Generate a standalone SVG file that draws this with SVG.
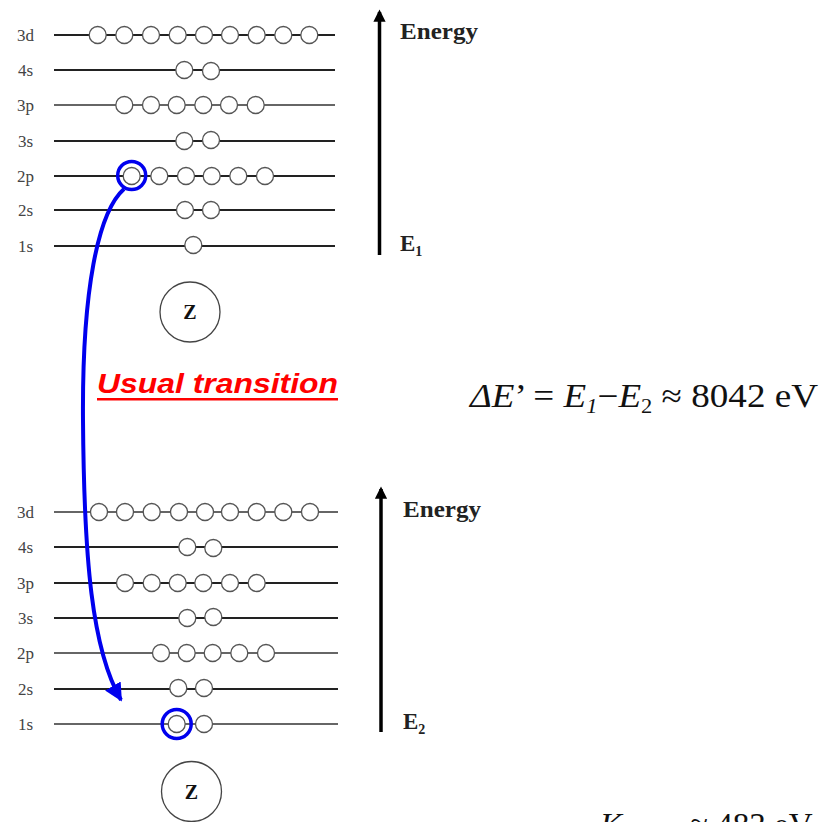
<svg xmlns="http://www.w3.org/2000/svg" width="835" height="822" viewBox="0 0 835 822">
<style>
.lbl{font-family:"Liberation Serif",serif;font-size:17px;fill:#444}
.lv{stroke:#222;stroke-width:2;fill:none}
.lvg{stroke:#666;stroke-width:2;fill:none}
.e{fill:#fff;stroke:#555;stroke-width:1.3}
.ax{stroke:#000;stroke-width:3.5;fill:none}
.en{font-family:"Liberation Serif",serif;font-weight:bold;font-size:23px;fill:#222}
.zc{fill:#fff;stroke:#444;stroke-width:1.3}
.zt{font-family:"Liberation Serif",serif;font-weight:bold;font-size:20px;fill:#111;text-anchor:middle}
.hl{fill:none;stroke:#0000ee;stroke-width:3.5}
.eq{font-family:"Liberation Serif",serif;font-size:33px;fill:#111}
</style>
<defs>
<marker id="ah" viewBox="0 0 10 10" refX="8" refY="5" markerWidth="4" markerHeight="3.5" orient="auto"><path d="M0,0 L10,5 L0,10 Z" fill="#000"/></marker>
<marker id="bh" viewBox="0 0 10 10" refX="9" refY="5" markerWidth="4.5" markerHeight="4.5" orient="auto" markerUnits="strokeWidth"><path d="M0,0 L10,5 L0,10 Z" fill="#0000ee"/></marker>
</defs>

<g id="atom1">
<g id="top-3d"><text class="lbl" x="17" y="41">3d</text><line class="lv" x1="54" y1="35" x2="335" y2="35"/>
<circle class="e" cx="97.7" cy="35" r="8.5"/><circle class="e" cx="124.3" cy="35" r="8.5"/><circle class="e" cx="151" cy="35" r="8.5"/><circle class="e" cx="177.7" cy="35" r="8.5"/><circle class="e" cx="204" cy="35" r="8.5"/><circle class="e" cx="230" cy="35" r="8.5"/><circle class="e" cx="256.7" cy="35" r="8.5"/><circle class="e" cx="283.3" cy="35" r="8.5"/><circle class="e" cx="309.3" cy="35" r="8.5"/></g>
<g id="top-4s"><text class="lbl" x="18" y="76">4s</text><line class="lv" x1="54" y1="70" x2="335" y2="70"/>
<circle class="e" cx="184.3" cy="70" r="8.5"/><circle class="e" cx="211" cy="71" r="8.5"/></g>
<g id="top-3p"><text class="lbl" x="17" y="111">3p</text><line class="lvg" x1="54" y1="105" x2="335" y2="105"/>
<circle class="e" cx="124.3" cy="105" r="8.5"/><circle class="e" cx="151" cy="105" r="8.5"/><circle class="e" cx="176.7" cy="105" r="8.5"/><circle class="e" cx="203.3" cy="105" r="8.5"/><circle class="e" cx="229" cy="105" r="8.5"/><circle class="e" cx="255.7" cy="105" r="8.5"/></g>
<g id="top-3s"><text class="lbl" x="18" y="147">3s</text><line class="lv" x1="54" y1="141" x2="335" y2="141"/>
<circle class="e" cx="184.3" cy="141" r="8.5"/><circle class="e" cx="211" cy="140" r="8.5"/></g>
<g id="top-2p"><text class="lbl" x="17" y="182">2p</text><line class="lv" x1="54" y1="176" x2="335" y2="176"/>
<circle class="e" cx="131.7" cy="176" r="8.5"/><circle class="e" cx="159.3" cy="176" r="8.5"/><circle class="e" cx="186" cy="176" r="8.5"/><circle class="e" cx="211.7" cy="176" r="8.5"/><circle class="e" cx="238.3" cy="176" r="8.5"/><circle class="e" cx="265" cy="176" r="8.5"/></g>
<g id="top-2s"><text class="lbl" x="18" y="216">2s</text><line class="lv" x1="54" y1="210" x2="335" y2="210"/>
<circle class="e" cx="185" cy="210" r="8.5"/><circle class="e" cx="211" cy="210" r="8.5"/></g>
<g id="top-1s"><text class="lbl" x="18" y="252">1s</text><line class="lv" x1="54" y1="246" x2="335" y2="246"/>
<circle class="e" cx="193.3" cy="245" r="8.5"/></g>
<g id="top-energy"><line class="ax" x1="379.5" y1="255" x2="379.5" y2="12" marker-end="url(#ah)"/>
<text class="en" x="400" y="39" textLength="78" lengthAdjust="spacingAndGlyphs">Energy</text>
<text class="en" x="400" y="251">E<tspan font-size="14" dy="5">1</tspan></text></g>
<g id="top-z"><circle class="zc" cx="190" cy="312" r="30"/><text class="zt" x="190" y="319">Z</text></g>
</g>

<g id="atom2">
<g id="bot-3d"><text class="lbl" x="17" y="518">3d</text><line class="lvg" x1="54" y1="512" x2="338" y2="512"/>
<circle class="e" cx="99" cy="512" r="8.5"/><circle class="e" cx="125" cy="512" r="8.5"/><circle class="e" cx="151.7" cy="512" r="8.5"/><circle class="e" cx="179" cy="512" r="8.5"/><circle class="e" cx="205" cy="512" r="8.5"/><circle class="e" cx="230" cy="512" r="8.5"/><circle class="e" cx="256.7" cy="512" r="8.5"/><circle class="e" cx="283.3" cy="512" r="8.5"/><circle class="e" cx="310" cy="512" r="8.5"/></g>
<g id="bot-4s"><text class="lbl" x="18" y="553">4s</text><line class="lv" x1="54" y1="547" x2="338" y2="547"/>
<circle class="e" cx="187.3" cy="547" r="8.5"/><circle class="e" cx="213.3" cy="548" r="8.5"/></g>
<g id="bot-3p"><text class="lbl" x="17" y="589">3p</text><line class="lv" x1="54" y1="583" x2="338" y2="583"/>
<circle class="e" cx="125" cy="583" r="8.5"/><circle class="e" cx="151.7" cy="583" r="8.5"/><circle class="e" cx="177.7" cy="583" r="8.5"/><circle class="e" cx="203.3" cy="583" r="8.5"/><circle class="e" cx="230" cy="583" r="8.5"/><circle class="e" cx="256.7" cy="583" r="8.5"/></g>
<g id="bot-3s"><text class="lbl" x="18" y="624">3s</text><line class="lv" x1="54" y1="618" x2="338" y2="618"/>
<circle class="e" cx="187.3" cy="618" r="8.5"/><circle class="e" cx="213.3" cy="617" r="8.5"/></g>
<g id="bot-2p"><text class="lbl" x="17" y="659">2p</text><line class="lvg" x1="54" y1="653" x2="338" y2="653"/>
<circle class="e" cx="161" cy="653" r="8.5"/><circle class="e" cx="186.7" cy="653" r="8.5"/><circle class="e" cx="212.7" cy="653" r="8.5"/><circle class="e" cx="239.3" cy="653" r="8.5"/><circle class="e" cx="266" cy="653" r="8.5"/></g>
<g id="bot-2s"><text class="lbl" x="18" y="695">2s</text><line class="lv" x1="54" y1="689" x2="338" y2="689"/>
<circle class="e" cx="178.3" cy="688" r="8.5"/><circle class="e" cx="204" cy="688" r="8.5"/></g>
<g id="bot-1s"><text class="lbl" x="18" y="730">1s</text><line class="lvg" x1="54" y1="724" x2="338" y2="724"/>
<circle class="e" cx="176.7" cy="724" r="8.5"/><circle class="e" cx="204" cy="724" r="8.5"/></g>
<g id="bot-energy"><line class="ax" x1="381" y1="732" x2="381" y2="489" marker-end="url(#ah)"/>
<text class="en" x="403" y="517" textLength="78" lengthAdjust="spacingAndGlyphs">Energy</text>
<text class="en" x="403" y="729">E<tspan font-size="14" dy="5">2</tspan></text></g>
<g id="bot-z"><circle class="zc" cx="191.5" cy="791.5" r="30"/><text class="zt" x="191.5" y="798.5">Z</text></g>
</g>

<g id="highlights">
<circle class="hl" cx="131.7" cy="175.5" r="14"/>
<circle class="hl" cx="176.7" cy="724" r="14.5"/>
</g>

<g id="connectors">
<path d="M124,189 C98,212 82,290 83,420 C84,560 92,650 121,700" fill="none" stroke="#0000ee" stroke-width="4" marker-end="url(#bh)"/>
</g>

<g id="label">
<text x="97" y="393" font-family="Liberation Sans, Arial, sans-serif" font-weight="bold" font-style="italic" font-size="28" fill="#ff0000" textLength="241" lengthAdjust="spacingAndGlyphs">Usual transition</text>
<rect x="97" y="398" width="241" height="2.5" fill="#ff0000"/>
</g>

<g id="equation">
<text class="eq" x="470" y="407" textLength="348" lengthAdjust="spacingAndGlyphs"><tspan font-style="italic">ΔE</tspan>’ = <tspan font-style="italic">E</tspan><tspan font-style="italic" font-size="20" dy="6">1</tspan><tspan dy="-6">−</tspan><tspan font-style="italic">E</tspan><tspan font-size="20" dy="6">2</tspan><tspan dy="-6"> ≈ 8042 eV</tspan></text>
</g>

<g id="bottom-eq">
<text class="eq" x="600" y="836"><tspan font-style="italic">K</tspan><tspan x="690">≈ 483 eV</tspan></text>
</g>
</svg>
